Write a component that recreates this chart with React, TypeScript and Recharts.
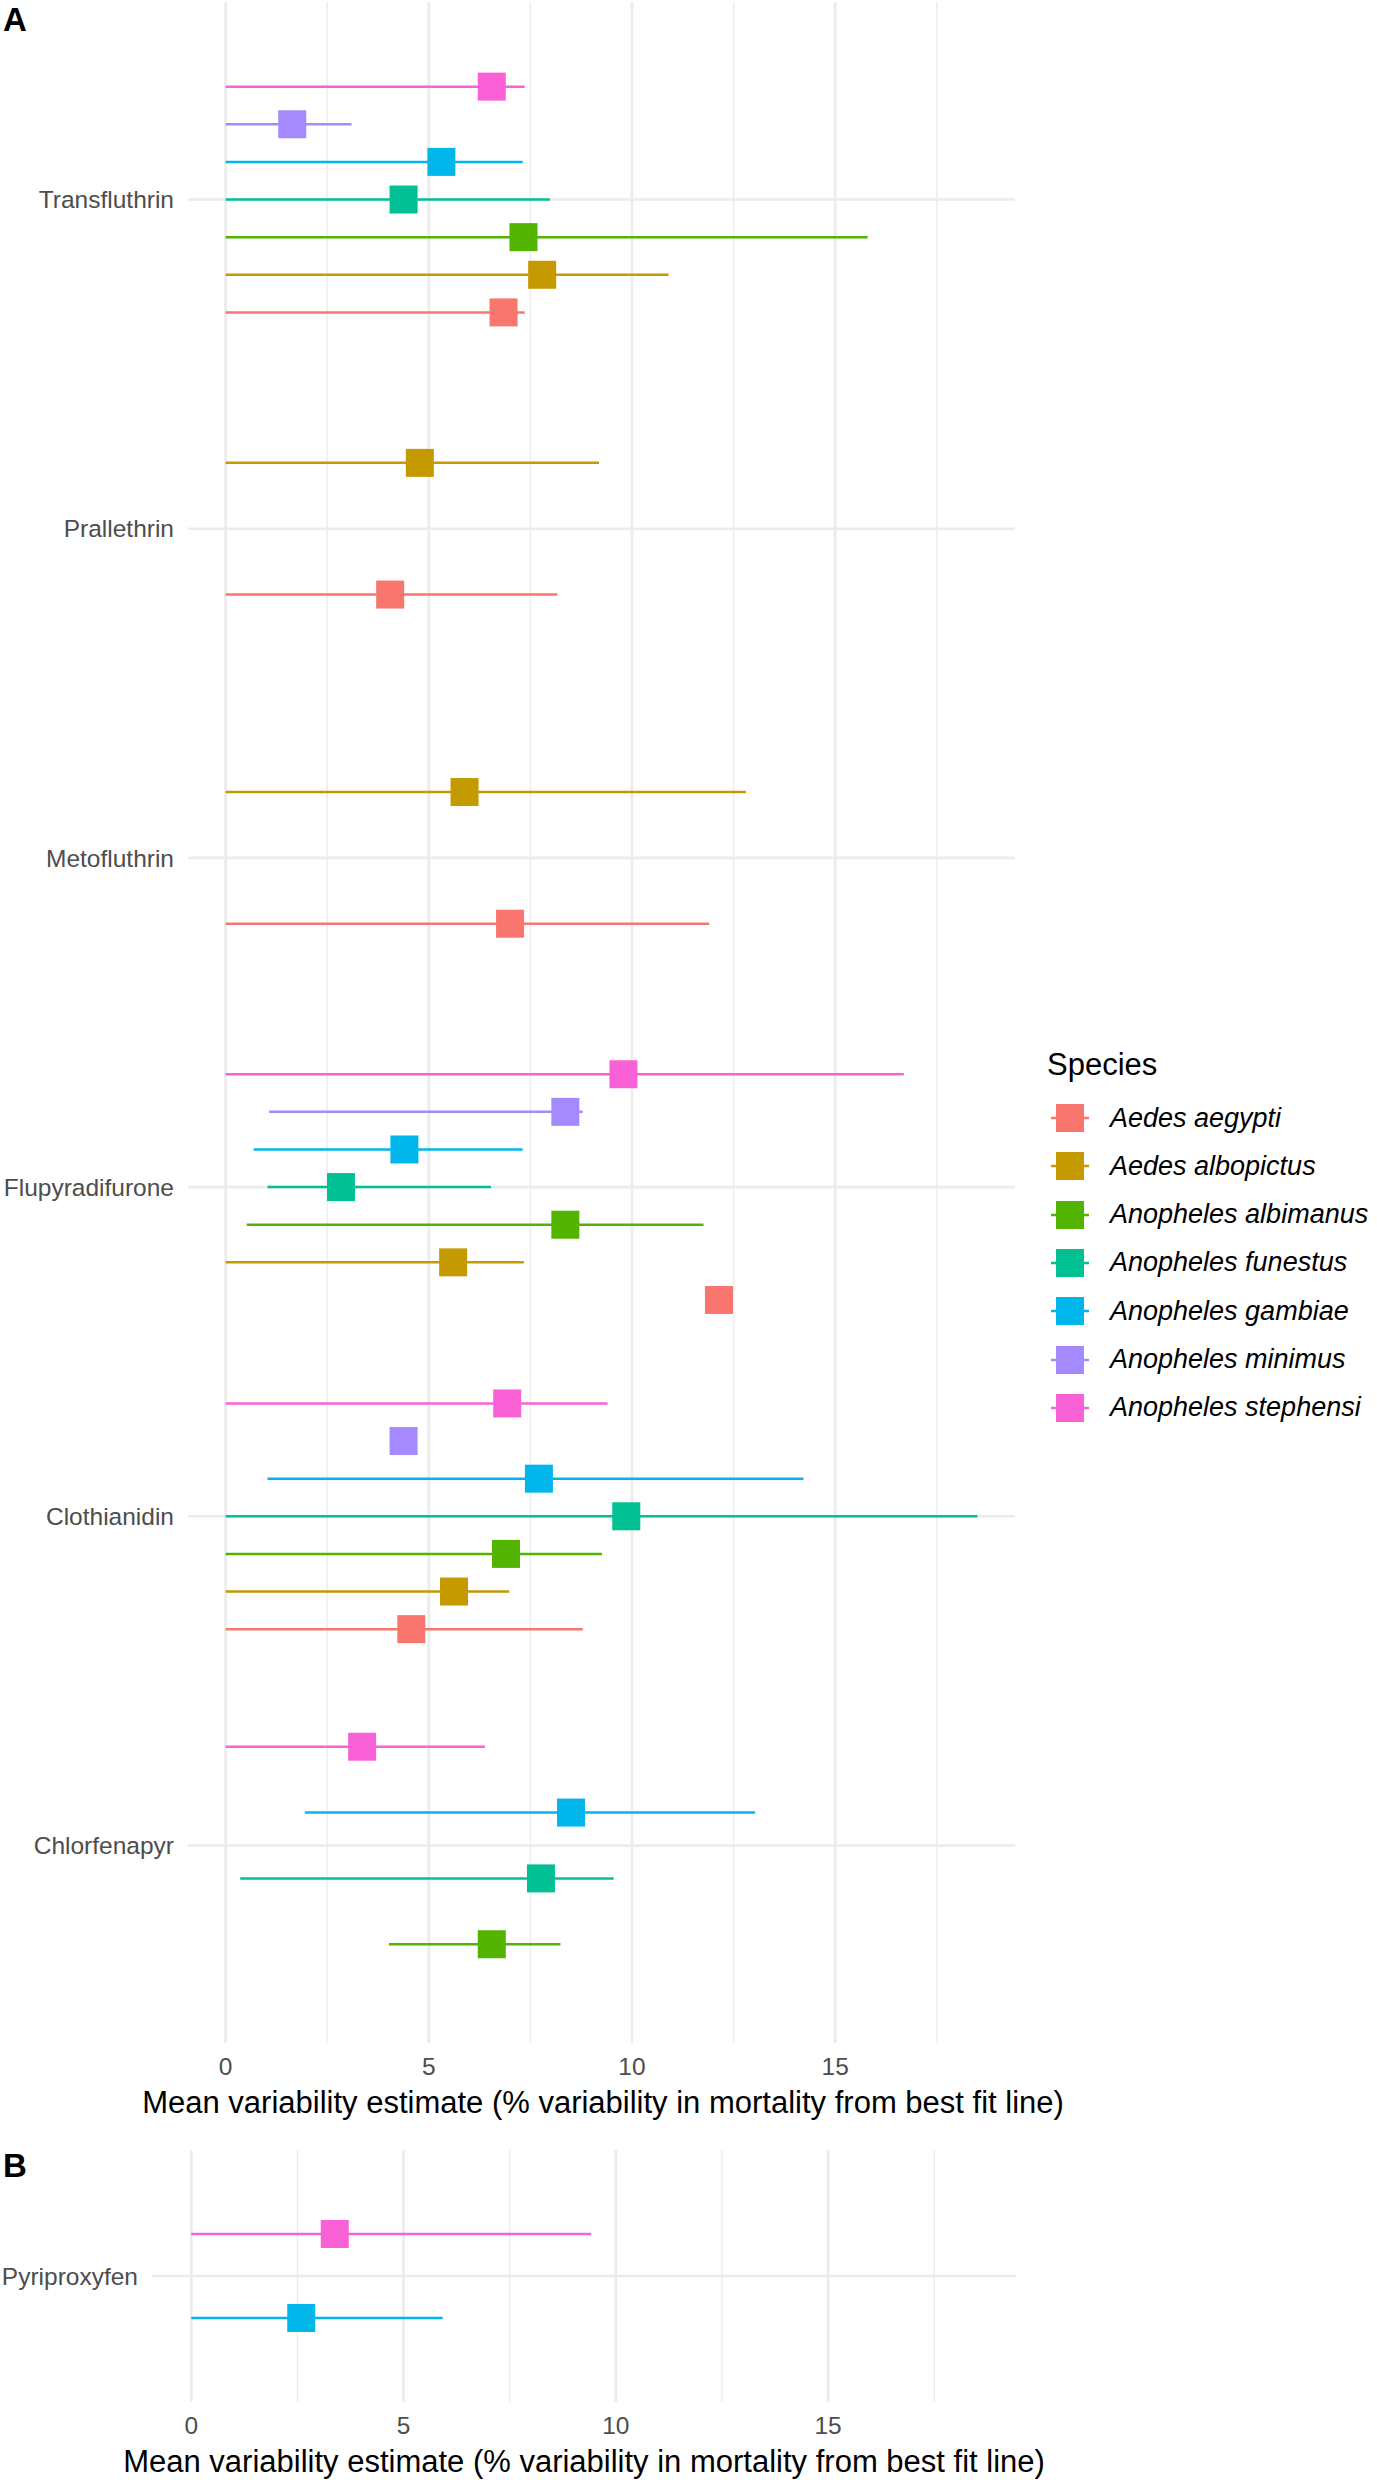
import { ErrorBar, ReferenceLine, Scatter, ScatterChart, XAxis, YAxis } from "recharts";

const species = [
  "Aedes aegypti",
  "Aedes albopictus",
  "Anopheles albimanus",
  "Anopheles funestus",
  "Anopheles gambiae",
  "Anopheles minimus",
  "Anopheles stephensi",
];
const speciesColors = ["#F8766D", "#C49A00", "#53B400", "#00C094", "#00B6EB", "#A58AFF", "#FB61D7"];

// panel A: insecticides, bottom to top
const insecticidesA = ["Chlorfenapyr", "Clothianidin", "Flupyradifurone", "Metofluthrin", "Prallethrin", "Transfluthrin"];

// [mean, lower, upper] per insecticide, null = not tested
type Est = [number, number, number] | null;
const aegyptiA: Est[] = [null, [4.57, 0, 8.79], [12.14, 12.0, 12.3], [7.0, 0, 11.9], [4.05, 0, 8.16], [6.84, 0, 7.36]];
const albopictusA: Est[] = [null, [5.62, 0, 6.98], [5.6, 0, 7.34], [5.88, 0, 12.81], [4.78, 0, 9.19], [7.79, 0, 10.9]];
const albimanusA: Est[] = [[6.55, 4.02, 8.24], [6.9, 0, 9.26], [8.36, 0.52, 11.76], null, null, [7.33, 0, 15.8]];
const funestusA: Est[] = [[7.76, 0.36, 9.55], [9.86, 0, 18.5], [2.84, 1.03, 6.53], null, null, [4.38, 0, 7.98]];
const gambiaeA: Est[] = [[8.5, 1.95, 13.03], [7.71, 1.03, 14.22], [4.4, 0.69, 7.31], null, null, [5.31, 0, 7.31]];
const minimusA: Est[] = [null, [4.38, 4.3, 4.45], [8.36, 1.07, 8.79], null, null, [1.64, 0, 3.1]];
const stephensiA: Est[] = [[3.36, 0, 6.38], [6.93, 0, 9.4], [9.79, 0, 16.69], null, null, [6.55, 0, 7.36]];

// panel B
const insecticidesB = ["Pyriproxyfen"];
const pyriproxyfenB: Est[] = [null, null, null, null, [2.59, 0, 5.92], null, [3.38, 0, 9.42]];

const xTicks = [0, 5, 10, 15];
const xMinor = [2.5, 7.5, 12.5, 17.5];
const xDomain = [-0.925, 19.425];

const estA = [aegyptiA, albopictusA, albimanusA, funestusA, gambiaeA, minimusA, stephensiA];
const estB = pyriproxyfenB.map((e) => [e]);

// dodge like ggplot position_dodge(0.8)
function buildRows(cats: string[], est: Est[][]) {
  const rows: any[][] = species.map(() => []);
  cats.forEach((cat, ci) => {
    const present = species.map((_, si) => si).filter((si) => est[si][ci]);
    const n = present.length;
    const w = 0.8 / n;
    present.forEach((si, k) => {
      const [m, lo, hi] = est[si][ci] as [number, number, number];
      rows[si].push({ cat, y: ci + 1 + (k - (n - 1) / 2) * w, x: m, err: [m - lo, hi - m] });
    });
  });
  return rows;
}

const rowsA = buildRows(insecticidesA, estA);
const rowsB = buildRows(insecticidesB, estB);

const FONT = "'Liberation Sans', Arial, sans-serif";
const grey30 = "#4D4D4D";
const grid = "#EBEBEB";
const axisTitle = "Mean variability estimate (% variability in mortality from best fit line)";

const square = (color: string) => (p: any) =>
  <rect x={p.cx - 14} y={p.cy - 14} width={28} height={28} fill={color} />;

function Panel({ cats, rows, width, height, xh, yWidth, top }: any) {
  const yTicks = cats.map((_: string, i: number) => i + 1);
  return (
    <ScatterChart width={width} height={height} margin={{ top, right: 15, bottom: 0, left: 0 }}>
      <XAxis
        type="number"
        dataKey="x"
        domain={xDomain}
        ticks={xTicks}
        allowDataOverflow
        axisLine={false}
        tickLine={false}
        tickMargin={9}
        height={xh}
        tick={{ fill: grey30, fontSize: 24.5, fontFamily: FONT }}
      />
      <YAxis
        type="number"
        dataKey="y"
        domain={[0.4, cats.length + 0.6]}
        ticks={yTicks}
        tickFormatter={(v: number) => cats[v - 1]}
        allowDataOverflow
        axisLine={false}
        tickLine={false}
        tickSize={0}
        tickMargin={14}
        width={yWidth}
        tick={{ fill: grey30, fontSize: 24.5, fontFamily: FONT }}
      />
      {xMinor.map((v) => (
        <ReferenceLine key={"m" + v} x={v} stroke={grid} strokeWidth={1.3} />
      ))}
      {xTicks.map((v) => (
        <ReferenceLine key={"x" + v} x={v} stroke={grid} strokeWidth={2.6} />
      ))}
      {yTicks.map((v: number) => (
        <ReferenceLine key={"y" + v} y={v} stroke={grid} strokeWidth={2.6} />
      ))}
      {rows.map((r: any[], si: number) =>
        r.length ? (
          <Scatter key={species[si]} data={r} isAnimationActive={false} shape={square(speciesColors[si])}>
            <ErrorBar dataKey="err" direction="x" width={0} stroke={speciesColors[si]} strokeWidth={2.5} isAnimationActive={false} />
          </Scatter>
        ) : null
      )}
    </ScatterChart>
  );
}

export default function App() {
  return (
    <div style={{ position: "absolute", left: 0, top: 0, width: 1377, height: 2480, background: "#fff", fontFamily: FONT, overflow: "hidden" }}>
      <div style={{ position: "absolute", left: 0, top: 0 }}>
        <Panel cats={insecticidesA} rows={rowsA} width={1030} height={2140} xh={97} yWidth={188} top={2} />
      </div>
      <div style={{ position: "absolute", left: 0, top: 2140 }}>
        <Panel cats={insecticidesB} rows={rowsB} width={1031} height={340} xh={78} yWidth={152} top={10} />
      </div>
      <div style={{ position: "absolute", left: 3, top: 3, fontSize: 33, fontWeight: "bold", lineHeight: 1 }}>A</div>
      <div style={{ position: "absolute", left: 3, top: 2149, fontSize: 33, fontWeight: "bold", lineHeight: 1 }}>B</div>
      <div style={{ position: "absolute", left: 3, width: 1200, top: 2087, textAlign: "center", fontSize: 31, lineHeight: 1, whiteSpace: "nowrap" }}>{axisTitle}</div>
      <div style={{ position: "absolute", left: -16, width: 1200, top: 2446, textAlign: "center", fontSize: 31, lineHeight: 1, whiteSpace: "nowrap" }}>{axisTitle}</div>
      <div style={{ position: "absolute", left: 1047, top: 1049, fontSize: 31, lineHeight: 1 }}>Species</div>
      {species.map((s, i) => (
        <div key={s} style={{ position: "absolute", left: 1050, top: 1104 + i * 48.3, height: 28, display: "flex", alignItems: "center" }}>
          <svg width={40} height={28}>
            <line x1={1} x2={39} y1={14} y2={14} stroke={speciesColors[i]} strokeWidth={2.5} />
            <rect x={6} y={0} width={28} height={28} fill={speciesColors[i]} />
          </svg>
          <span style={{ marginLeft: 20, fontSize: 27, fontStyle: "italic", whiteSpace: "nowrap" }}>{s}</span>
        </div>
      ))}
    </div>
  );
}
